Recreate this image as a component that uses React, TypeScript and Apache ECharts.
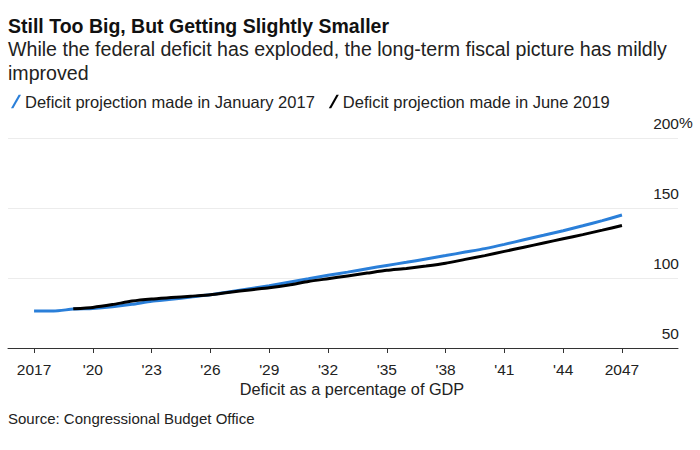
import React, { useEffect, useRef } from "react";
import * as echarts from "echarts";

const titleText = "Still Too Big, But Getting Slightly Smaller";
const subtitleText = "While the federal deficit has exploded, the long-term fiscal picture has mildly\nimproved";
const seriesNames = ["Deficit projection made in January 2017", "Deficit projection made in June 2019"];
const axisTitle = "Deficit as a percentage of GDP";
const sourceText = "Source: Congressional Budget Office";

const yearsJan2017 = [
  2017, 2018, 2019, 2020, 2021, 2022, 2023, 2024, 2025, 2026, 2027, 2028, 2029, 2030, 2031, 2032,
  2033, 2034, 2035, 2036, 2037, 2038, 2039, 2040, 2041, 2042, 2043, 2044, 2045, 2046, 2047,
];
const valuesJan2017 = [
  76.4, 76.4, 77.8, 78.3, 79.5, 81.2, 83.4, 84.8, 86.4, 88.0, 90.2, 92.4, 94.5, 97.0, 99.5, 102.0,
  104.2, 106.6, 109.0, 111.2, 113.6, 116.0, 118.5, 121.0, 124.0, 127.3, 130.5, 133.8, 137.3, 141.0, 145.0,
];
const yearsJun2019 = [
  2019, 2020, 2021, 2022, 2023, 2024, 2025, 2026, 2027, 2028, 2029, 2030, 2031, 2032, 2033, 2034,
  2035, 2036, 2037, 2038, 2039, 2040, 2041, 2042, 2043, 2044, 2045, 2046, 2047,
];
const valuesJun2019 = [
  78.0, 79.0, 81.0, 83.5, 85.0, 86.0, 87.0, 88.0, 89.8, 91.5, 93.0, 95.0, 97.5, 99.5, 101.5, 103.5,
  105.5, 106.8, 108.5, 110.5, 113.3, 116.0, 119.0, 122.0, 125.0, 128.0, 131.0, 134.2, 137.5,
];
const xTicks = [2017, 2020, 2023, 2026, 2029, 2032, 2035, 2038, 2041, 2044, 2047];
const yTicks = [50, 100, 150, 200];

const FONT = "Liberation Sans";
const BLUE = "#2a7fd9";
const BLACK = "#000000";
const TEXT = "#222222";

export default function App() {
  const ref = useRef<HTMLDivElement>(null);
  useEffect(() => {
    if (!ref.current) return;
    const chart = echarts.init(ref.current, undefined, { renderer: "svg" });
    const slash = "path://M0,14 L8,0 L10.5,0 L2.5,14 Z";
    chart.setOption({
      animation: false,
      backgroundColor: "#ffffff",
      textStyle: { fontFamily: FONT },
      title: {
        text: titleText,
        subtext: subtitleText,
        left: 3,
        top: 10,
        itemGap: 0,
        textStyle: { fontFamily: FONT, fontSize: 19.5, fontWeight: "bold", color: "#111", lineHeight: 22 },
        subtextStyle: { fontFamily: FONT, fontSize: 19.6, color: TEXT, lineHeight: 24 },
      },
      legend: {
        left: 6,
        top: 88,
        itemWidth: 10,
        itemHeight: 14,
        itemGap: 14,
        icon: slash,
        textStyle: { fontFamily: FONT, fontSize: 16.5, color: TEXT, padding: [0, 0, 0, -1] },
        data: seriesNames,
      },
      grid: { left: 8, right: 22, top: 138, bottom: 102, containLabel: false },
      xAxis: {
        type: "value",
        min: 2015.67,
        max: 2049.86,
        splitLine: { show: false },
        axisLine: { show: true, lineStyle: { color: "#333", width: 1 } },
        axisTick: { show: true, length: 5, lineStyle: { color: "#333" }, customValues: xTicks },
        axisLabel: {
          customValues: xTicks,
          margin: 13,
          fontFamily: FONT,
          fontSize: 15.5,
          color: TEXT,
          formatter: (v: number) => (v === 2017 || v === 2047 ? String(v) : "'" + String(v).slice(2)),
        },
      },
      yAxis: {
        type: "value",
        position: "right",
        min: 50,
        max: 200,
        interval: 50,
        axisLine: { show: false },
        axisTick: { show: false },
        splitLine: { show: true, lineStyle: { color: "#ececec", width: 1 } },
        axisLabel: {
          inside: true,
          margin: -1,
          verticalAlign: "bottom",
          padding: [0, 0, 7, 0],
          fontFamily: FONT,
          fontSize: 15.5,
          color: TEXT,
          formatter: (v: number) => (yTicks.includes(v) ? String(v) : ""),
        },
      },
      series: [
        {
          name: seriesNames[0],
          type: "line",
          data: yearsJan2017.map((y, i) => [y, valuesJan2017[i]]),
          showSymbol: false,
          smooth: 0.2,
          lineStyle: { color: BLUE, width: 3 },
          itemStyle: { color: BLUE },
          z: 2,
        },
        {
          name: seriesNames[1],
          type: "line",
          data: yearsJun2019.map((y, i) => [y, valuesJun2019[i]]),
          showSymbol: false,
          smooth: 0.2,
          lineStyle: { color: BLACK, width: 3 },
          itemStyle: { color: BLACK },
          z: 3,
        },
      ],
      graphic: [
        {
          type: "text",
          left: 679,
          top: 114,
          style: { text: "%", fontFamily: FONT, fontSize: 15.5, fill: TEXT },
        },
        {
          type: "text",
          x: 352,
          y: 389,
          style: { text: axisTitle, fontFamily: FONT, fontSize: 16.3, fill: TEXT, align: "center", verticalAlign: "middle" },
        },
        {
          type: "text",
          x: 8,
          y: 418,
          style: { text: sourceText, fontFamily: FONT, fontSize: 15, fill: TEXT, verticalAlign: "middle" },
        },
      ],
    });
    return () => chart.dispose();
  }, []);
  return <div ref={ref} style={{ width: 700, height: 450, position: "absolute", left: 0, top: 0 }} />;
}
